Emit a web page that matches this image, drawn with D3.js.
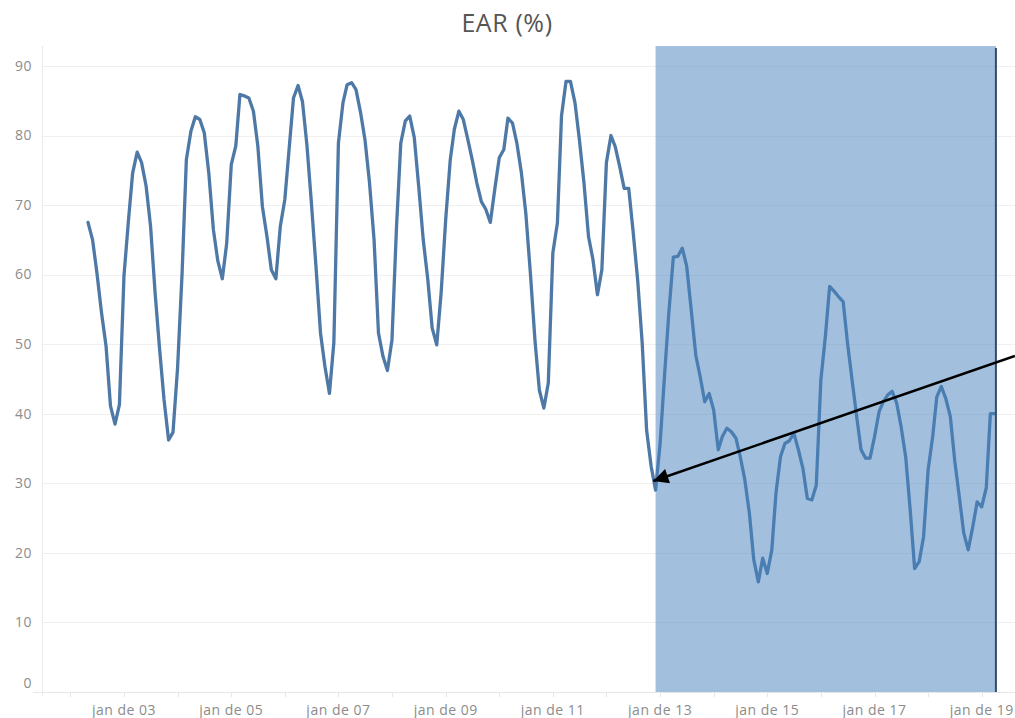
<!DOCTYPE html>
<html>
<head>
<meta charset="utf-8">
<script src="https://cdn.jsdelivr.net/npm/d3@7"></script>
<style>
  body { margin: 0; background: #fff; }
  text { font-family: "Open Sans", sans-serif; }
</style>
</head>
<body>
<div id="chart"></div>
<script>
// EAR (%) monthly series, May 2002 .. Apr 2019
const firstMonth = "2002-05-01";
const earValues = [
  67.5, 65.0, 60.2, 54.5, 49.7, 41.1, 38.5, 41.3,                   // 2002
  59.8, 67.9, 74.6, 77.6, 76.1, 72.7, 67.0, 57.4, 49.2, 42.0, 36.2, 37.3, // 2003
  46.5, 60.2, 76.5, 80.6, 82.7, 82.3, 80.4, 74.6, 66.5, 62.0, 59.4, 64.5, // 2004
  75.8, 78.5, 85.9, 85.7, 85.4, 83.5, 78.5, 69.8, 65.5, 60.7, 59.4, 66.9, // 2005
  70.8, 78.5, 85.4, 87.2, 84.9, 78.5, 70.3, 61.2, 51.6, 46.8, 42.9, 50.2, // 2006
  78.9, 84.7, 87.3, 87.6, 86.6, 83.3, 79.4, 73.2, 65.0, 51.6, 48.2, 46.2, // 2007
  50.6, 66.9, 78.9, 82.1, 82.8, 79.7, 72.7, 65.0, 59.3, 52.3, 49.9, 57.4, // 2008
  67.9, 76.5, 80.9, 83.5, 82.3, 79.4, 76.5, 73.2, 70.5, 69.4, 67.5, 72.2, // 2009
  76.8, 78.0, 82.5, 81.8, 78.9, 74.6, 68.8, 60.2, 50.6, 43.4, 40.8, 44.4, // 2010
  63.1, 67.4, 82.8, 87.8, 87.8, 84.7, 79.4, 73.2, 65.5, 62.2, 57.1, 60.7, // 2011
  76.1, 80.0, 78.4, 75.5, 72.4, 72.4, 66.2, 59.2, 50.1, 37.6, 32.4, 29.0, // 2012
  35.7, 45.8, 54.4, 62.5, 62.6, 63.8, 61.2, 54.9, 48.4, 45.3, 41.7, 42.9, // 2013
  40.5, 34.8, 36.7, 37.9, 37.4, 36.5, 33.8, 30.5, 25.7, 19.0, 15.8, 19.2, // 2014
  17.0, 20.4, 28.5, 33.8, 35.7, 36.1, 37.2, 34.8, 32.1, 27.8, 27.6, 29.7, // 2015
  44.8, 51.1, 58.3, 57.6, 56.8, 56.1, 50.1, 44.8, 39.6, 34.8, 33.6, 33.6, // 2016
  36.7, 40.3, 41.7, 42.7, 43.2, 41.5, 38.1, 33.8, 26.1, 17.7, 18.7, 22.3, // 2017
  31.9, 36.7, 42.4, 43.9, 42.2, 39.6, 33.3, 28.1, 22.8, 20.4, 23.7, 27.3, // 2018
  26.6, 29.3, 40.0, 40.0                                            // 2019
];

const yTicks = [0, 10, 20, 30, 40, 50, 60, 70, 80, 90];
const yearTicks = d3.range(2002, 2020);
const labelYears = [2003, 2005, 2007, 2009, 2011, 2013, 2015, 2017, 2019];

// highlighted period and annotation arrow
const highlightStart = "2012-12-01";
const highlightEnd = "2019-04-01";
const arrowFrom = { date: "2019-08-15", value: 48.3 };
const arrowTo = { date: "2012-11-16", value: 30.3 };

const width = 1015, height = 718;
const plotLeft = 42, plotTop = 46, plotBottom = 692;

const parse = d3.timeParse("%Y-%m-%d");
const data = earValues.map((v, i) => ({
  date: d3.timeMonth.offset(parse(firstMonth), i),
  value: v
}));

const svg = d3.select("#chart").append("svg")
  .attr("width", width)
  .attr("height", height);

const x = d3.scaleTime()
  .domain([new Date(2002, 0, 1), new Date(2019, 0, 1)])
  .range([70.4, 981.7]);

const y = d3.scaleLinear()
  .domain([0, 90])
  .range([691.7, 66]);

// title
svg.append("text")
  .attr("x", 507)
  .attr("y", 32)
  .attr("text-anchor", "middle")
  .attr("font-size", 25)
  .attr("letter-spacing", 0.6)
  .attr("fill", "#555")
  .text("EAR (%)");

// gridlines
svg.append("g")
  .selectAll("line")
  .data(yTicks)
  .join("line")
  .attr("x1", d => d === 0 ? 33 : plotLeft)
  .attr("x2", width)
  .attr("y1", d => Math.round(y(d)) + 0.5)
  .attr("y2", d => Math.round(y(d)) + 0.5)
  .attr("stroke", d => d === 0 ? "#e6e6e6" : "#f0f0f0")
  .attr("stroke-width", 1);

// y axis line
svg.append("line")
  .attr("x1", plotLeft + 0.5).attr("x2", plotLeft + 0.5)
  .attr("y1", plotTop).attr("y2", plotBottom + 4)
  .attr("stroke", "#ebebeb");

// y labels
svg.append("g")
  .selectAll("text")
  .data(yTicks)
  .join("text")
  .attr("x", 32)
  .attr("y", d => y(d) - (d === 0 ? 9 : 0))
  .attr("dy", "0.35em")
  .attr("text-anchor", "end")
  .attr("font-size", 14)
  .attr("letter-spacing", 0.5)
  .attr("fill", "#8c8c8c")
  .text(d => d);

// x ticks every year
svg.append("g")
  .selectAll("line")
  .data(yearTicks)
  .join("line")
  .attr("x1", d => Math.round(x(new Date(d, 0, 1))) + 0.5)
  .attr("x2", d => Math.round(x(new Date(d, 0, 1))) + 0.5)
  .attr("y1", plotBottom)
  .attr("y2", plotBottom + 5)
  .attr("stroke", "#e6e6e6");

svg.append("g")
  .selectAll("text")
  .data(labelYears)
  .join("text")
  .attr("x", d => x(new Date(d, 0, 1)))
  .attr("y", 710)
  .attr("dy", "0.35em")
  .attr("text-anchor", "middle")
  .attr("font-size", 14)
  .attr("letter-spacing", 0.5)
  .attr("fill", "#8c8c8c")
  .text(d => "jan de " + String(d % 100).padStart(2, "0"));

// line
const line = d3.line()
  .x(d => x(d.date))
  .y(d => y(d.value));

svg.append("path")
  .datum(data)
  .attr("d", line)
  .attr("fill", "none")
  .attr("stroke", "#4e79a7")
  .attr("stroke-width", 3.3)
  .attr("stroke-linejoin", "round")
  .attr("stroke-linecap", "round");

// highlight band (drawn over the line, translucent)
const hx0 = x(parse(highlightStart)), hx1 = x(parse(highlightEnd));
svg.append("rect")
  .attr("x", hx0)
  .attr("y", plotTop)
  .attr("width", hx1 - hx0 + 1)
  .attr("height", plotBottom - plotTop)
  .attr("fill", "#4682be")
  .attr("fill-opacity", 0.5);

svg.append("line")
  .attr("x1", hx1 + 1).attr("x2", hx1 + 1)
  .attr("y1", plotTop + 2).attr("y2", plotBottom)
  .attr("stroke", "#2e4d6e")
  .attr("stroke-width", 2);

// arrow annotation
svg.append("defs").append("marker")
  .attr("id", "arrowhead")
  .attr("viewBox", "0 0 10 10")
  .attr("refX", 10).attr("refY", 5)
  .attr("markerWidth", 7).attr("markerHeight", 6)
  .attr("markerUnits", "strokeWidth")
  .attr("orient", "auto")
  .append("path")
  .attr("d", "M0,0 L10,5 L0,10 z")
  .attr("fill", "#000");

svg.append("line")
  .attr("x1", x(parse(arrowFrom.date)))
  .attr("y1", y(arrowFrom.value))
  .attr("x2", x(parse(arrowTo.date)))
  .attr("y2", y(arrowTo.value))
  .attr("stroke", "#000")
  .attr("stroke-width", 2.5)
  .attr("marker-end", "url(#arrowhead)");
</script>
</body>
</html>
